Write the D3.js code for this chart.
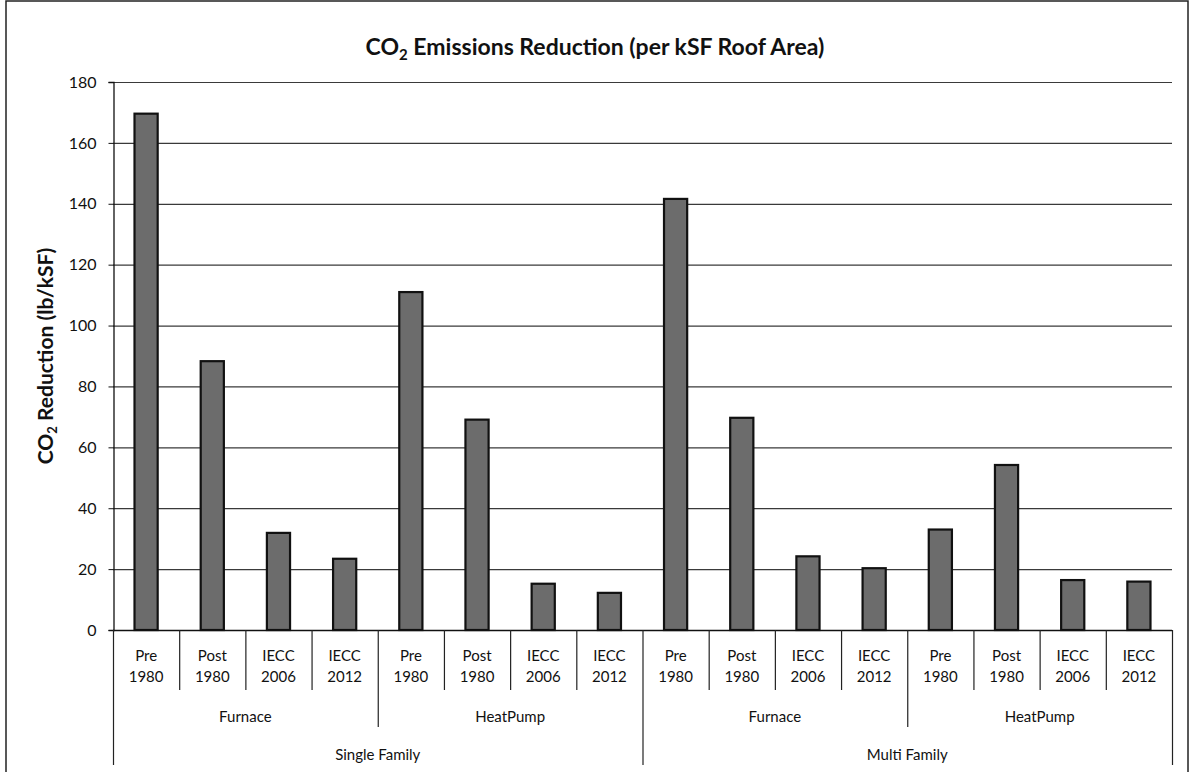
<!DOCTYPE html>
<html>
<head>
<meta charset="utf-8">
<script src="https://cdn.jsdelivr.net/npm/d3@7"></script>
<style>
  html, body { margin: 0; padding: 0; background: #fff; }
  svg { display: block; }
  text { font-family: Lato, "Open Sans", "Liberation Sans", sans-serif; fill: #111; }
</style>
</head>
<body>
<svg id="chart" width="1190" height="772"></svg>
<script>
// ---- data ----
const families = ["Single Family", "Multi Family"];
const systems = ["Furnace", "HeatPump"];
const vintageLine1 = ["Pre", "Post", "IECC", "IECC"];
const vintageLine2 = ["1980", "1980", "2006", "2012"];
const singleFurnace = [169.6, 88.3, 31.9, 23.4];
const singleHeatPump = [111.0, 69.1, 15.2, 12.2];
const multiFurnace = [141.6, 69.7, 24.2, 20.3];
const multiHeatPump = [33.0, 54.2, 16.4, 15.9];
const yTicks = [0, 20, 40, 60, 80, 100, 120, 140, 160, 180];
const titleText = "Emissions Reduction (per kSF Roof Area)";

(function () {
// ---- build rows ----
const seriesByGroup = [[singleFurnace, singleHeatPump], [multiFurnace, multiHeatPump]];
const rows = [];
families.forEach((fam, fi) => {
  systems.forEach((sys, si) => {
    vintageLine1.forEach((v, vi) => {
      rows.push({
        id: fam + "|" + sys + "|" + vi,
        family: fam, fi, system: sys, si, vi,
        l1: v, l2: vintageLine2[vi],
        value: seriesByGroup[fi][si][vi]
      });
    });
  });
});

const svg = d3.select("#chart");
const pLeft = 113, pRight = 1172, pTop = 82, pBottom = 630;
const lblSize = 15;

const x = d3.scaleBand().domain(rows.map(d => d.id)).range([pLeft, pRight])
  .paddingInner(0.65).paddingOuter(0.325);
const step = x.step();
const y = d3.scaleLinear().domain([0, 180]).range([pBottom, pTop]);

// outer frame
svg.append("rect").attr("x", 6).attr("y", 1).attr("width", 1182).attr("height", 800)
  .attr("fill", "none").attr("stroke", "#222").attr("stroke-width", 1.5);

// title
const title = svg.append("text").attr("x", 595).attr("y", 55)
  .attr("text-anchor", "middle").attr("font-size", 23).attr("font-weight", 700);
title.append("tspan").text("CO");
title.append("tspan").text("2").attr("font-size", 15).attr("dy", 5);
title.append("tspan").text(" " + titleText).attr("dy", -5);

// gridlines
svg.append("g").selectAll("line").data(yTicks.filter(t => t > 0)).join("line")
  .attr("x1", pLeft).attr("x2", pRight)
  .attr("y1", d => y(d) + 0.5).attr("y2", d => y(d) + 0.5)
  .attr("stroke", "#3a3a3a").attr("stroke-width", 1.2);

// y axis
const yAxis = d3.axisLeft(y).tickValues(yTicks).tickSize(5).tickPadding(12);
const gy = svg.append("g").attr("transform", `translate(${pLeft + 0.5},0)`).call(yAxis);
gy.select(".domain").attr("stroke", "#111").attr("stroke-width", 1.3);
gy.selectAll(".tick line").attr("stroke", "#111");
gy.selectAll(".tick text").attr("font-size", 16).attr("font-family", "Lato, sans-serif").attr("fill", "#111");

// y title
const yt = svg.append("text").attr("transform", `translate(53,${(pTop + pBottom) / 2}) rotate(-90)`)
  .attr("text-anchor", "middle").attr("font-size", 21).attr("font-weight", 700);
yt.append("tspan").text("CO");
yt.append("tspan").text("2").attr("font-size", 13).attr("dy", 4);
yt.append("tspan").text(" Reduction (lb/kSF)").attr("dy", -4);

// bars
svg.append("g").selectAll("rect").data(rows).join("rect")
  .attr("x", d => x(d.id)).attr("width", x.bandwidth())
  .attr("y", d => y(d.value)).attr("height", d => y(0) - y(d.value))
  .attr("fill", "#6c6c6c").attr("stroke", "#111").attr("stroke-width", 2.2);

// baseline
svg.append("line").attr("x1", pLeft).attr("x2", pRight).attr("y1", pBottom + 0.5).attr("y2", pBottom + 0.5)
  .attr("stroke", "#111").attr("stroke-width", 1.5);

// category separators
const boundary = i => pLeft + i * step;
const seps = d3.range(rows.length + 1).map(i => ({
  i, len: (i % 8 === 0) ? 765 : (i % 4 === 0 ? 727 : 690)
}));
svg.append("g").selectAll("line").data(seps).join("line")
  .attr("x1", d => boundary(d.i) + 0.5).attr("x2", d => boundary(d.i) + 0.5)
  .attr("y1", pBottom).attr("y2", d => d.len)
  .attr("stroke", "#222").attr("stroke-width", 1.2);

// level-1 labels
const lab = svg.append("g");
lab.selectAll("text.l1").data(rows).join("text").attr("class", "l1")
  .attr("x", d => x(d.id) + x.bandwidth() / 2).attr("y", 661).text(d => d.l1)
  .attr("font-size", lblSize).attr("text-anchor", "middle");
lab.selectAll("text.l2").data(rows).join("text").attr("class", "l2")
  .attr("x", d => x(d.id) + x.bandwidth() / 2).attr("y", 682).text(d => d.l2)
  .attr("font-size", lblSize).attr("text-anchor", "middle");

// level-2 labels
const groups = [];
families.forEach((f, fi) => systems.forEach((s, si) => groups.push({ name: s, idx: fi * 2 + si })));
svg.append("g").selectAll("text").data(groups).join("text")
  .attr("x", d => boundary(d.idx * 4 + 2)).attr("y", 722)
  .attr("text-anchor", "middle").attr("font-size", lblSize).text(d => d.name);

// level-3 labels
svg.append("g").selectAll("text").data(families).join("text")
  .attr("x", (d, i) => boundary(i * 8 + 4)).attr("y", 760)
  .attr("text-anchor", "middle").attr("font-size", lblSize).text(d => d);
})();
</script>
</body>
</html>
